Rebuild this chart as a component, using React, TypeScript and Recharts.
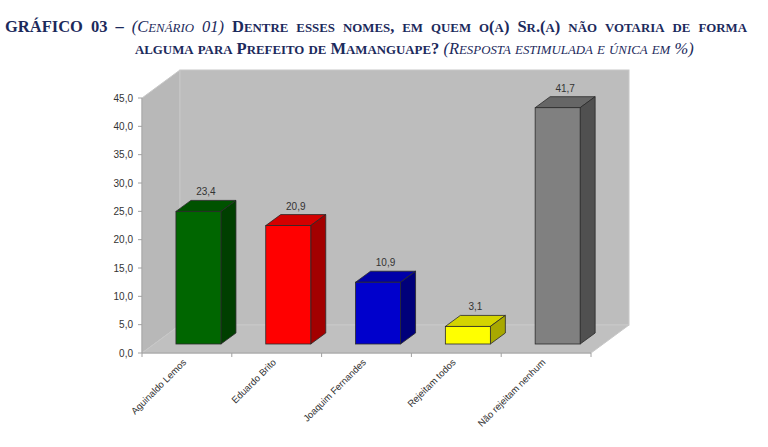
import { Bar, BarChart, LabelList, ReferenceArea, XAxis, YAxis } from 'recharts'

const categories = [
  'Aguinaldo Lemos',
  'Eduardo Brito',
  'Joaquim Fernandes',
  'Rejeitam todos',
  'Não rejeitam nenhum',
]
const values = [23.4, 20.9, 10.9, 3.1, 41.7]
const faceColors = ['#006600', '#ff0000', '#0000cc', '#ffff00', '#808080']
const topColors = ['#005200', '#d40000', '#0000a8', '#d4d400', '#666666']
const sideColors = ['#003f00', '#a30000', '#00007a', '#a8a800', '#505050']
const yTicks = [0, 5, 10, 15, 20, 25, 30, 35, 40, 45]

const data = categories.map((name, i) => ({ name, value: values[i], idx: i }))

// 3D look
const WALL_DX = 38
const WALL_DY = 28
const BAR_SHIFT_X = 11.5
const BAR_SHIFT_Y = -9
const BOX_DX = 15
const BOX_DY = 11
const BAND = (768 - 102 - 40 - 177) / categories.length

const fmt = (v: number) => v.toFixed(1).replace('.', ',')

// small caps like Word does it (bigger than the browser's synthetic ones)
function SC({ text }: { text: string }) {
  const parts: { s: string; small: boolean }[] = []
  for (const ch of text) {
    const small = ch !== ch.toUpperCase()
    const last = parts[parts.length - 1]
    if (last && last.small === small) last.s += ch
    else parts.push({ s: ch, small })
  }
  return (
    <>
      {parts.map((p, i) =>
        p.small ? (
          <span key={i} style={{ fontSize: '0.78em' }}>
            {p.s.toUpperCase()}
          </span>
        ) : (
          <span key={i}>{p.s}</span>
        )
      )}
    </>
  )
}

function Walls(props: any) {
  const { x, y, width, height } = props
  const bx = x + WALL_DX
  const by = y - WALL_DY
  const bottom = y + height
  return (
    <g>
      <polygon
        points={`${x},${y} ${bx},${by} ${bx},${bottom - WALL_DY} ${x},${bottom}`}
        fill="#b8b8b8"
        stroke="#c8c8c8"
      />
      <rect x={bx} y={by} width={width} height={height} fill="#bdbdbd" stroke="#c8c8c8" />
      <polygon
        points={`${x},${bottom} ${x + width},${bottom} ${bx + width},${bottom - WALL_DY} ${bx},${bottom - WALL_DY}`}
        fill="#c0c0c0"
        stroke="#c8c8c8"
      />
    </g>
  )
}

function Box(props: any) {
  const { x, y, width, height, payload } = props
  const i = payload.idx
  const fx = x + BAR_SHIFT_X
  const fy = y + BAR_SHIFT_Y
  const w = width
  const h = height
  const line = '#2a2a2a'
  return (
    <g>
      <polygon
        points={`${fx},${fy} ${fx + BOX_DX},${fy - BOX_DY} ${fx + w + BOX_DX},${fy - BOX_DY} ${fx + w},${fy}`}
        fill={topColors[i]}
        stroke={line}
        strokeWidth={0.8}
      />
      <polygon
        points={`${fx + w},${fy} ${fx + w + BOX_DX},${fy - BOX_DY} ${fx + w + BOX_DX},${fy + h - BOX_DY} ${fx + w},${fy + h}`}
        fill={sideColors[i]}
        stroke={line}
        strokeWidth={0.8}
      />
      <rect x={fx} y={fy} width={w} height={h} fill={faceColors[i]} stroke={line} strokeWidth={0.8} />
    </g>
  )
}

function ValueLabel(props: any) {
  const { x, y, width, value } = props
  return (
    <text
      x={x + width / 2 + BAR_SHIFT_X + BOX_DX / 2}
      y={y + BAR_SHIFT_Y - BOX_DY - 5}
      textAnchor="middle"
      fontSize={10}
      fill="#333"
      fontFamily="Liberation Sans, Arial, sans-serif"
    >
      {fmt(value)}
    </text>
  )
}

function XTick(props: any) {
  const { x, y, payload, index } = props
  const left = x - BAND / 2
  return (
    <g>
      <line x1={left} y1={y} x2={left} y2={y + 4} stroke="#a0a0a0" />
      {index === categories.length - 1 && (
        <line x1={x + BAND / 2} y1={y} x2={x + BAND / 2} y2={y + 4} stroke="#a0a0a0" />
      )}
      <text
        x={x}
        y={y + 10}
        transform={`rotate(-45, ${x}, ${y + 10})`}
        textAnchor="end"
        fontSize={9.5}
        fill="#333"
        fontFamily="Liberation Sans, Arial, sans-serif"
      >
        {payload.value}
      </text>
    </g>
  )
}

const titleColor = '#1c2a5c'
const italic = { fontWeight: 'normal' as const, fontStyle: 'italic' as const }

export default function App() {
  return (
    <div
      style={{
        position: 'absolute',
        left: 0,
        top: 0,
        width: 768,
        height: 447,
        background: '#fff',
        fontFamily: '"Liberation Serif", "Times New Roman", serif',
        color: titleColor,
      }}
    >
      <div
        style={{
          position: 'absolute',
          left: 5,
          top: 16,
          width: 742,
          fontSize: 16.5,
          fontWeight: 'bold',
          whiteSpace: 'nowrap',
          lineHeight: '22px',
          textAlign: 'justify',
          textAlignLast: 'justify',
        }}
      >
        GRÁFICO 03 –{' '}
        <span style={italic}>
          <SC text="(Cenário 01)" />
        </span>{' '}
        <SC text="Dentre esses nomes, em quem o(a) Sr.(a) não votaria de forma" />
      </div>
      <div
        style={{
          position: 'absolute',
          left: 135,
          top: 38,
          fontSize: 16.5,
          fontWeight: 'bold',
          whiteSpace: 'nowrap',
          lineHeight: '22px',
        }}
      >
        <SC text="alguma para Prefeito de Mamanguape?" />{' '}
        <span style={italic}>
          <SC text="(Resposta estimulada e única em %)" />
        </span>
      </div>
      <div style={{ position: 'absolute', left: 0, top: 0 }}>
        <BarChart
          width={768}
          height={447}
          data={data}
          margin={{ top: 98, right: 177, bottom: 14, left: 102 }}
          barCategoryGap="25%"
        >
          <ReferenceArea ifOverflow="visible" shape={Walls} zIndex={-200} />
          <XAxis
            dataKey="name"
            height={80}
            interval={0}
            tickLine={false}
            tickSize={0}
            tickMargin={0}
            stroke="#a0a0a0"
            tick={XTick}
          />
          <YAxis
            width={40}
            domain={[0, 45]}
            ticks={yTicks}
            tickFormatter={fmt}
            tickSize={4}
            tickMargin={5}
            stroke="#a0a0a0"
            tick={{ fontSize: 10, fill: '#333', fontFamily: 'Liberation Sans, Arial, sans-serif' }}
          />
          <Bar dataKey="value" shape={Box} isAnimationActive={false}>
            <LabelList dataKey="value" content={ValueLabel} />
          </Bar>
        </BarChart>
      </div>
    </div>
  )
}
